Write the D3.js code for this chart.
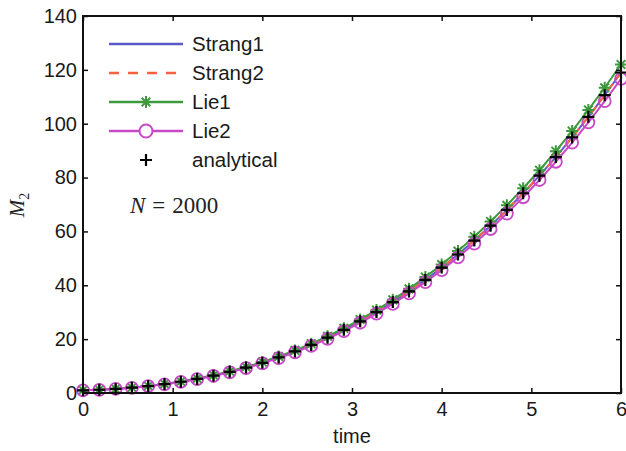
<!DOCTYPE html>
<html>
<head>
<meta charset="utf-8">
<script src="https://d3js.org/d3.v7.min.js"></script>
<style>
  body { margin: 0; background: #fff; }
  svg { font-family: 'Liberation Sans', Arial, sans-serif; }
  .axis path, .axis line { stroke: #111; }
  .axis text { font-size: 20px; fill: #1a1a1a; }
</style>
</head>
<body>
<svg id="chart" width="626" height="451"></svg>
<script>
// sample times, 34 points from 0 to 6
const times = [0, 0.182, 0.364, 0.545, 0.727, 0.909, 1.091, 1.273, 1.455, 1.636, 1.818, 2.0,
  2.182, 2.364, 2.545, 2.727, 2.909, 3.091, 3.273, 3.455, 3.636, 3.818, 4.0, 4.182,
  4.364, 4.545, 4.727, 4.909, 5.091, 5.273, 5.455, 5.636, 5.818, 6.0];

const analytical = [1.00, 1.21, 1.53, 1.98, 2.57, 3.30, 4.18, 5.23, 6.45, 7.85, 9.43, 11.22,
  13.21, 15.43, 17.86, 20.53, 23.45, 26.62, 30.05, 33.75, 37.73, 41.99, 46.56, 51.43,
  56.62, 62.14, 67.98, 74.17, 80.71, 87.62, 94.89, 102.54, 110.58, 119.02];

const strang1 = [1.00, 1.21, 1.53, 1.98, 2.57, 3.30, 4.18, 5.23, 6.45, 7.85, 9.43, 11.22,
  13.21, 15.43, 17.86, 20.53, 23.45, 26.62, 30.05, 33.75, 37.73, 41.99, 46.56, 51.43,
  56.62, 62.14, 67.98, 74.17, 80.71, 87.62, 94.89, 102.54, 110.58, 119.02];

const strang2 = [1.00, 1.21, 1.53, 1.98, 2.57, 3.30, 4.18, 5.23, 6.45, 7.85, 9.43, 11.22,
  13.21, 15.43, 17.86, 20.53, 23.45, 26.62, 30.05, 33.75, 37.73, 41.99, 46.56, 51.43,
  56.62, 62.14, 67.98, 74.17, 80.71, 87.62, 94.89, 102.54, 110.58, 119.02];

const lie1 = [1.03, 1.24, 1.57, 2.03, 2.63, 3.38, 4.28, 5.36, 6.61, 8.05, 9.67, 11.50,
  13.54, 15.82, 18.31, 21.04, 24.04, 27.29, 30.80, 34.59, 38.67, 43.04, 47.72, 52.72,
  58.04, 63.69, 69.68, 76.02, 82.73, 89.81, 97.26, 105.10, 113.34, 122.00];

const lie2 = [0.98, 1.19, 1.50, 1.94, 2.52, 3.23, 4.10, 5.13, 6.32, 7.69, 9.24, 11.00,
  12.95, 15.12, 17.50, 20.12, 22.98, 26.09, 29.45, 33.08, 36.98, 41.15, 45.63, 50.40,
  55.49, 60.90, 66.62, 72.69, 79.10, 85.87, 92.99, 100.49, 108.37, 116.64];

const xTicks = [0, 1, 2, 3, 4, 5, 6];
const yTicks = [0, 20, 40, 60, 80, 100, 120, 140];
const legendNames = ['Strang1', 'Strang2', 'Lie1', 'Lie2', 'analytical'];

const colors = {
  strang1: '#5a5ac8',
  strang2: '#ff6040',
  lie1: '#3c9a3c',
  lie2: '#c848c8',
  analytical: '#000'
};

const margin = { left: 83, top: 16, right: 5, bottom: 58 };
const width = 626, height = 451;

const svg = d3.select('#chart');

const x = d3.scaleLinear().domain([0, 6]).range([margin.left, width - margin.right]);
const y = d3.scaleLinear().domain([0, 140]).range([height - margin.bottom, margin.top]);

const toPts = vals => vals.map((v, i) => [times[i], v]);
const line = d3.line().x(d => x(d[0])).y(d => y(d[1]));

// series lines
svg.append('path').attr('d', line(toPts(strang1)))
  .attr('fill', 'none').attr('stroke', colors.strang1).attr('stroke-width', 2);
svg.append('path').attr('d', line(toPts(strang2)))
  .attr('fill', 'none').attr('stroke', colors.strang2).attr('stroke-width', 2)
  .attr('stroke-dasharray', '8,6');
svg.append('path').attr('d', line(toPts(lie1)))
  .attr('fill', 'none').attr('stroke', colors.lie1).attr('stroke-width', 2);
svg.append('path').attr('d', line(toPts(lie2)))
  .attr('fill', 'none').attr('stroke', colors.lie2).attr('stroke-width', 2);

function star(g, cx, cy, r, color) {
  const s = r * 0.72;
  g.append('path')
    .attr('d', `M${cx - r},${cy}H${cx + r}M${cx},${cy - r}V${cy + r}` +
      `M${cx - s},${cy - s}L${cx + s},${cy + s}M${cx - s},${cy + s}L${cx + s},${cy - s}`)
    .attr('stroke', color).attr('stroke-width', 2).attr('fill', 'none');
}
function circle(g, cx, cy, r, color) {
  g.append('circle').attr('cx', cx).attr('cy', cy).attr('r', r)
    .attr('fill', 'none').attr('stroke', color).attr('stroke-width', 1.8);
}
function plus(g, cx, cy, r, color) {
  g.append('path')
    .attr('d', `M${cx - r},${cy}H${cx + r}M${cx},${cy - r}V${cy + r}`)
    .attr('stroke', color).attr('stroke-width', 2.2).attr('fill', 'none');
}

const marks = svg.append('g');
lie1.forEach((v, i) => star(marks, x(times[i]), y(v), 6, colors.lie1));
lie2.forEach((v, i) => circle(marks, x(times[i]), y(v), 6, colors.lie2));
analytical.forEach((v, i) => plus(marks, x(times[i]), y(v), 6, colors.analytical));

// axes with inward ticks, mirrored on top/right
const plotB = height - margin.bottom, plotR = width - margin.right;
svg.append('g').attr('class', 'axis').attr('transform', `translate(0,${plotB})`)
  .call(d3.axisBottom(x).tickValues(xTicks).tickFormat(d3.format('d')).tickSize(-5).tickPadding(9))
  .call(g => g.select('.domain').remove());
svg.append('g').attr('class', 'axis').attr('transform', `translate(${margin.left},0)`)
  .call(d3.axisLeft(y).tickValues(yTicks).tickSize(-5).tickPadding(6))
  .call(g => g.select('.domain').remove());
svg.append('g').attr('class', 'axis').attr('transform', `translate(0,${margin.top})`)
  .call(d3.axisTop(x).tickValues(xTicks).tickSize(-5).tickFormat(''))
  .call(g => g.select('.domain').remove());
svg.append('g').attr('class', 'axis').attr('transform', `translate(${plotR},0)`)
  .call(d3.axisRight(y).tickValues(yTicks).tickSize(-5).tickFormat(''))
  .call(g => g.select('.domain').remove());
svg.selectAll('.axis line').attr('stroke-width', 1.5);

svg.append('rect')
  .attr('x', margin.left).attr('y', margin.top)
  .attr('width', plotR - margin.left).attr('height', plotB - margin.top)
  .attr('fill', 'none').attr('stroke', '#111').attr('stroke-width', 2);

// axis labels
svg.append('text').attr('x', (margin.left + plotR) / 2).attr('y', 443)
  .attr('text-anchor', 'middle').attr('font-size', 20).attr('fill', '#1a1a1a').text('time');
const yl = svg.append('text')
  .attr('transform', 'translate(24,205) rotate(-90)')
  .attr('text-anchor', 'middle')
  .attr('font-family', "'Liberation Serif', 'Times New Roman', serif")
  .attr('font-style', 'italic').attr('font-size', 21).attr('fill', '#222');
yl.append('tspan').text('M');
yl.append('tspan').attr('font-size', 14).attr('font-style', 'normal').attr('dy', 5).text('2');

// legend
const legend = svg.append('g');
const lx0 = 109, lx1 = 183, ly0 = 44, ldy = 29;
legendNames.forEach((name, i) => {
  const ly = ly0 + i * ldy;
  const cx = (lx0 + lx1) / 2;
  if (i === 0) {
    legend.append('line').attr('x1', lx0).attr('x2', lx1).attr('y1', ly).attr('y2', ly)
      .attr('stroke', colors.strang1).attr('stroke-width', 2.5);
  } else if (i === 1) {
    legend.append('line').attr('x1', lx0).attr('x2', lx1).attr('y1', ly).attr('y2', ly)
      .attr('stroke', colors.strang2).attr('stroke-width', 2.5).attr('stroke-dasharray', '10,9');
  } else if (i === 2) {
    legend.append('line').attr('x1', lx0).attr('x2', lx1).attr('y1', ly).attr('y2', ly)
      .attr('stroke', colors.lie1).attr('stroke-width', 2.5);
    star(legend, cx, ly, 6, colors.lie1);
  } else if (i === 3) {
    legend.append('line').attr('x1', lx0).attr('x2', lx1).attr('y1', ly).attr('y2', ly)
      .attr('stroke', colors.lie2).attr('stroke-width', 2.5);
    legend.append('circle').attr('cx', cx).attr('cy', ly).attr('r', 6.5)
      .attr('fill', '#fff').attr('stroke', colors.lie2).attr('stroke-width', 2);
  } else {
    plus(legend, cx, ly, 6, colors.analytical);
  }
  legend.append('text').attr('x', 192).attr('y', ly + 7)
    .attr('font-size', 20.5).attr('fill', '#1a1a1a').text(name);
});

// annotation
const note = svg.append('text').attr('x', 130).attr('y', 213)
  .attr('font-family', "'Liberation Serif', 'Times New Roman', serif")
  .attr('font-size', 23).attr('fill', '#222');
note.append('tspan').attr('font-style', 'italic').text('N');
note.append('tspan').attr('dx', 7).text('=');
note.append('tspan').attr('dx', 7).text('2000');
</script>
</body>
</html>
